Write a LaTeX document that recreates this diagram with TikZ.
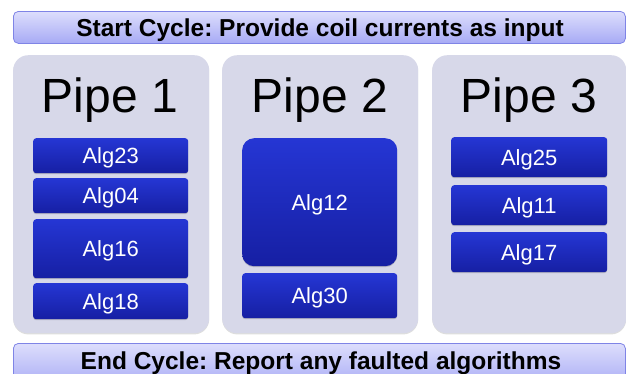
\documentclass[tikz,border=0pt]{standalone}
\usepackage{fontspec}
\setmainfont{Liberation Sans}
\frenchspacing
\usetikzlibrary{shadows}
\definecolor{barTop}{HTML}{DDDEFC}
\definecolor{barBot}{HTML}{A7AAF5}
\definecolor{barLine}{HTML}{7F84E6}
\definecolor{pipeFill}{HTML}{D7D8E9}
\definecolor{algTop}{HTML}{2536D4}
\definecolor{algBot}{HTML}{161FA3}
\tikzset{
  cyclebar/.style={draw=barLine, line width=0.8pt, top color=barTop, bottom color=barBot,
    rounded corners=5pt, inner sep=0pt, anchor=north west},
  cycletext/.style={font=\bfseries\fontsize{24.5}{26}\selectfont, text=black,
    text height=17.5pt, text depth=0pt, inner sep=0pt},
  pipebox/.style={fill=pipeFill, rounded corners=15pt, inner sep=0pt, anchor=north west,
    minimum width=196pt, minimum height=278pt,
    drop shadow={shadow xshift=0pt, shadow yshift=-1.2pt, opacity=0.22, fill=black!60}},
  pipetitle/.style={font=\fontsize{48}{50}\selectfont, text=black,
    text height=34.4pt, text depth=0pt, inner sep=0pt},
  algbox/.style={top color=algTop, bottom color=algBot, rounded corners=3pt,
    inner sep=0pt, anchor=north west, minimum width=155pt,
    font=\fontsize{22}{24}\selectfont, text=white, text height=15.75pt, text depth=0pt,
    drop shadow={shadow xshift=0pt, shadow yshift=-1pt, opacity=0.25, fill=black!70}},
}
\begin{document}
\begin{tikzpicture}[x=1pt, y=-1pt]
\useasboundingbox (0,0) rectangle (626,373);
\clip (0,0) rectangle (626,373);
% top and bottom bars
\node[cyclebar, minimum width=612pt, minimum height=32pt] (start) at (13,11) {};
\node[cycletext] (starttext) at (320,28) {Start Cycle: Provide coil currents as input};
\node[cyclebar, minimum width=612pt, minimum height=44pt] (end) at (13,343) {};
\node[cycletext] (endtext) at (321,361) {End Cycle: Report any faulted algorithms};
% pipes
\node[pipebox] (p1) at (13,55) {};
\node[pipebox] (p2) at (222,55) {};
\node[pipebox, minimum width=194pt] (p3) at (432,55) {};
\node[pipetitle] (t1) at (110,95) {Pipe 1};
\node[pipetitle] (t2) at (320,95) {Pipe 2};
\node[pipetitle] (t3) at (529,95) {Pipe 3};
% pipe 1
\node[algbox, minimum height=35pt] (a23) at (33,138) {Alg23};
\node[algbox, minimum height=35pt] (a04) at (33,178) {Alg04};
\node[algbox, minimum height=59pt] (a16) at (33,219) {Alg16};
\node[algbox, minimum height=36pt] (a18) at (33,283) {Alg18};
% pipe 2
\node[algbox, minimum height=128pt, rounded corners=12pt] (a12) at (242,138) {Alg12};
\node[algbox, minimum height=45pt] (a30) at (242,273) {Alg30};
% pipe 3
\node[algbox, minimum width=156pt, minimum height=40pt] (a25) at (451,137) {Alg25};
\node[algbox, minimum width=156pt, minimum height=40pt] (a11) at (451,185) {Alg11};
\node[algbox, minimum width=156pt, minimum height=40pt] (a17) at (451,232) {Alg17};
\end{tikzpicture}
\end{document}
